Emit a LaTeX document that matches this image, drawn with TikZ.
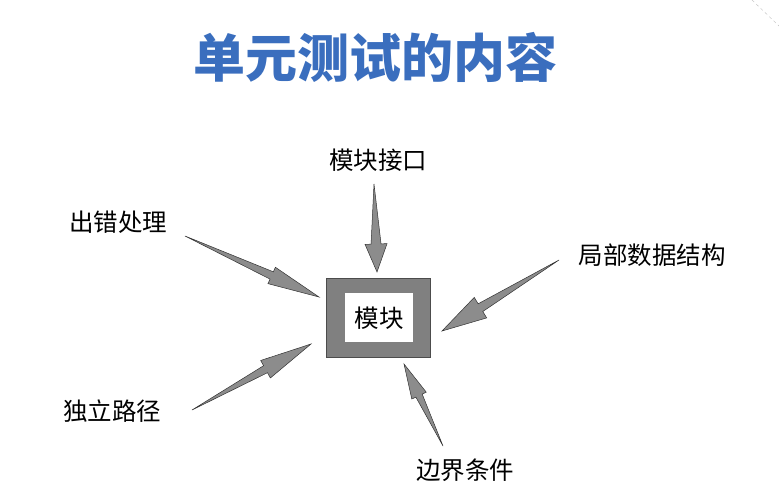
\documentclass[tikz,border=0pt]{standalone}
\usepackage{fontspec}
\newfontfamily\cjk{Noto Sans CJK SC}
\usetikzlibrary{calc}
\definecolor{titleblue}{RGB}{58,110,190}
\definecolor{arrowgray}{RGB}{140,140,140}
\definecolor{boxgray}{RGB}{128,128,128}
\tikzset{
  lbl/.style={font=\cjk\fontsize{24.5}{28}\selectfont, inner sep=0pt},
  ttl/.style={font=\cjk\bfseries\fontsize{52}{60}\selectfont, text=titleblue, inner sep=0pt},
  fat/.style={fill=arrowgray, draw=black!80, line width=0.5pt, line join=miter},
}
% #1 tail, #2 tip, #3 head length, #4 head half width, #5 neck half width (all in pt)
\newcommand{\fatarrow}[5]{%
  \path[fat] (#1)
    -- ($($(#2)!#3pt!(#1)$)!#5pt!90:(#2)$)
    -- ($($(#2)!#3pt!(#1)$)!#4pt!90:(#2)$)
    -- (#2)
    -- ($($(#2)!#3pt!(#1)$)!#4pt!-90:(#2)$)
    -- ($($(#2)!#3pt!(#1)$)!#5pt!-90:(#2)$)
    -- cycle;}
\begin{document}
\begin{tikzpicture}[x=1pt,y=-1pt]
\useasboundingbox (0,0) rectangle (779,500);
\fill[white] (0,0) rectangle (779,500);
\draw[gray!50, dashed, line width=0.4pt] (752,0) -- (779,26);

\node[ttl] (title) at (375,57) {单元测试的内容};

% central box
\fill[boxgray, draw=black!70, line width=0.6pt] (326,278) rectangle (430,357);
\fill[white] (345,293) rectangle (413,342);
\node[lbl] (mod) at (379,318) {模块};

% labels
\node[lbl] (jk) at (378,160) {模块接口};
\node[lbl] (cc) at (118,222) {出错处理};
\node[lbl] (jb) at (652,255) {局部数据结构};
\node[lbl] (dl) at (112,411) {独立路径};
\node[lbl] (bj) at (465,470) {边界条件};

% arrow ends
\coordinate (t1) at (185,236);  \coordinate (h1) at (319,297);
\coordinate (t2) at (374,184);  \coordinate (h2) at (377,272);
\coordinate (t3) at (559,260);  \coordinate (h3) at (442,331);
\coordinate (t4) at (192,410);  \coordinate (h4) at (311,344);
\coordinate (t5) at (443,446);  \coordinate (h5) at (404,364);

\fatarrow{t1}{h1}{52}{9}{4}
\fatarrow{t2}{h2}{28}{11}{5}
\fatarrow{t3}{h3}{45}{12}{4.5}
\fatarrow{t4}{h4}{52}{10}{4}
\fatarrow{t5}{h5}{35}{8}{3.5}
\end{tikzpicture}
\end{document}
